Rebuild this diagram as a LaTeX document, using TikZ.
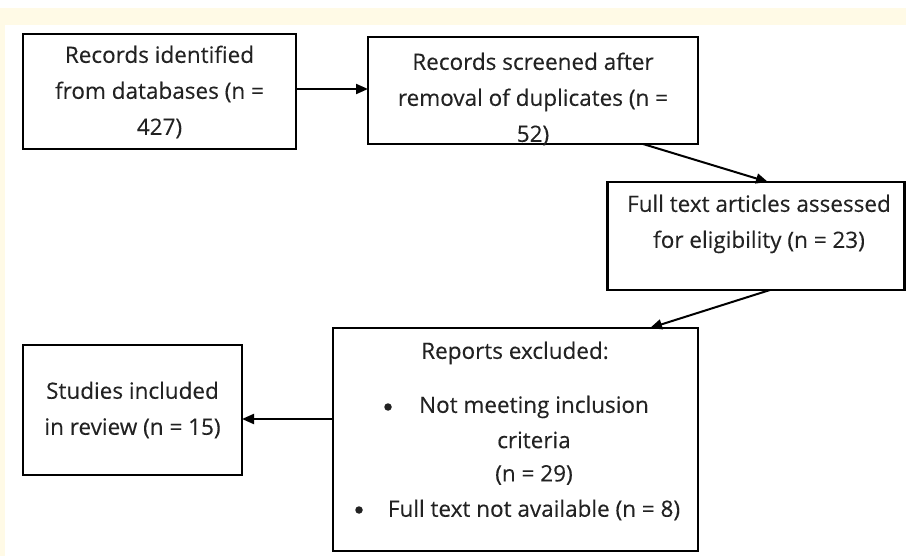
\documentclass[tikz,border=0pt]{standalone}
\usepackage{fontspec}
\setmainfont{Open Sans}[FakeBold=0.25]
\usetikzlibrary{arrows.meta,calc}
\definecolor{cream}{HTML}{FFFAE6}
\definecolor{ink}{HTML}{222222}
\begin{document}
\begin{tikzpicture}[x=1pt,y=-1pt,
  box/.style={draw=black,line width=2.4pt,fill=white,inner sep=0pt,outer sep=0pt},
  txt/.style={text=ink,font=\fontsize{22.5}{36}\selectfont,align=center,inner sep=0pt},
  arr/.style={draw=black,line width=2pt,-{Triangle[length=12pt,width=10pt]}},
  dot/.style={circle,fill=ink,inner sep=0pt,minimum size=7.5pt}]
\useasboundingbox (0,0) rectangle (906,556);
% page background
\fill[white] (0,0) rectangle (906,556);
\fill[cream] (0,8) rectangle (906,25);
\fill[cream] (0,8) rectangle (5,556);

% boxes
\node[box,minimum width=273pt,minimum height=115pt] (A) at (159.5,91.5) {};
\node[box,minimum width=330pt,minimum height=107pt] (B) at (533,90.5) {};
\node[box,minimum width=297pt,minimum height=108pt] (C) at (756,236) {};
\node[box,minimum width=365pt,minimum height=223pt] (D) at (515.5,439.5) {};
\node[box,minimum width=219pt,minimum height=130pt] (E) at (132.5,410) {};

% texts
\node[txt] (tA) at (159.5,92) {Records identified\\from databases (n =\\427)};
\node[txt] (tB) at (533,99) {Records screened after\\removal of duplicates (n =\\52)};
\node[txt] (tC) at (759,224) {Full text articles assessed\\for eligibility (n = 23)};
\node[txt] (tE) at (132.5,410) {Studies included\\in review (n = 15)};
\node[txt] (tD0) at (515,353) {Reports excluded:};
\node[dot] (b1) at (388,407) {};
\node[txt] (tD1) at (534,407) {Not meeting inclusion};
\node[txt] (tD2) at (534,440) {criteria};
\node[txt] (tD3) at (534,475) {(n = 29)};
\node[dot] (b2) at (359,510) {};
\node[txt] (tD4) at (534,510) {Full text not available (n = 8)};

% connectors
\draw[arr] ([yshift=2.5pt]A.east) -- ([yshift=2.5pt]A.east -| B.west);
\draw[arr] ([xshift=110pt]B.south) -- ([xshift=12pt]C.north);
\draw[arr] ([xshift=14pt]C.south) -- ([xshift=134.5pt]D.north);
\coordinate (dl) at ([yshift=20.5pt]D.west);
\draw[arr] (dl) -- (dl -| E.east);
\end{tikzpicture}
\end{document}
